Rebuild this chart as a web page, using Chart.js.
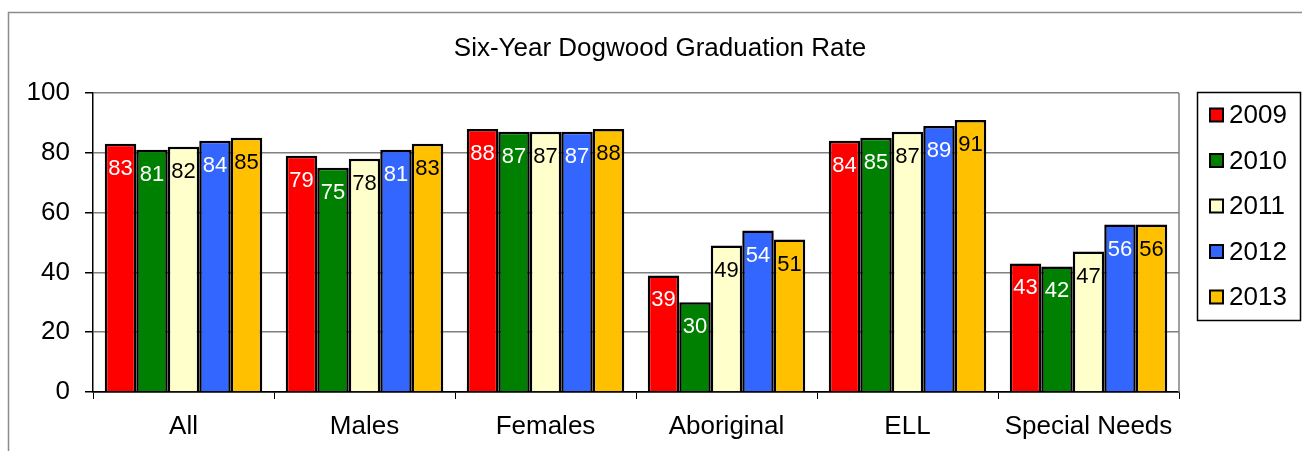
<!DOCTYPE html>
<html lang="en">
<head>
  <meta charset="UTF-8" />
  <title>Six-Year Dogwood Graduation Rate</title>
  <script src="https://cdn.jsdelivr.net/npm/chart.js"></script>
  <style>
    html, body { margin: 0; padding: 0; background: #fff; }
    canvas { display: block; }
  </style>
</head>
<body>
  <canvas id="grafico" width="1302" height="451"></canvas>

  <script>
  // Datos
  const categorias = ["All", "Males", "Females", "Aboriginal", "ELL", "Special Needs"];
  const anios = ["2009", "2010", "2011", "2012", "2013"];
  const datos2009 = [83, 79, 88, 39, 84, 43];
  const datos2010 = [81, 75, 87, 30, 85, 42];
  const datos2011 = [82, 78, 87, 49, 87, 47];
  const datos2012 = [84, 81, 87, 54, 89, 56];
  const datos2013 = [85, 83, 88, 51, 91, 56];
  const ticksY = [0, 20, 40, 60, 80, 100];

  const colores = ["#FF0000", "#008000", "#FFFFCC", "#3366FF", "#FFC000"];
  const coloresTexto = ["#FFFFFF", "#FFFFFF", "#000000", "#FFFFFF", "#000000"];
  const series = [datos2009, datos2010, datos2011, datos2012, datos2013];

  const FUENTE = "'Liberation Sans', Arial, sans-serif";
  Chart.defaults.font.family = FUENTE;
  Chart.defaults.color = "#000";

  // marco, titulo, leyenda y etiquetas
  const extras = {
    id: "extras",
    beforeDraw(chart) {
      const c = chart.ctx;
      c.save();
      c.fillStyle = "#fff";
      c.fillRect(0, 0, chart.width, chart.height);
      c.strokeStyle = "#8c8c8c";
      c.lineWidth = 1.5;
      c.strokeRect(8.5, 12.5, 1400, 600);
      c.restore();
    },
    afterDatasetsDraw(chart) {
      const c = chart.ctx;
      const area = chart.chartArea;
      c.save();
      // borde derecho del area
      c.strokeStyle = "#808080";
      c.lineWidth = 1.5;
      c.beginPath();
      c.moveTo(area.right, area.top);
      c.lineTo(area.right, area.bottom);
      c.stroke();

      c.font = "22px " + FUENTE;
      c.textAlign = "center";
      c.textBaseline = "middle";
      chart.data.datasets.forEach((ds, i) => {
        const meta = chart.getDatasetMeta(i);
        meta.data.forEach((bar, j) => {
          c.fillStyle = coloresTexto[i];
          c.fillText(Math.round(ds.data[j]), bar.x, bar.y + 25);
        });
      });
      c.restore();
    },
    afterDraw(chart) {
      const c = chart.ctx;
      c.save();
      c.fillStyle = "#000";
      c.font = "26px " + FUENTE;
      c.textAlign = "center";
      c.textBaseline = "middle";
      c.fillText("Six-Year Dogwood Graduation Rate", 660, 49);

      // Leyenda
      c.strokeStyle = "#000";
      c.lineWidth = 1.5;
      c.strokeRect(1197.5, 92.5, 103, 228);
      c.textAlign = "left";
      chart.data.datasets.forEach((ds, i) => {
        const y = 115 + i * 45.5;
        c.fillStyle = ds.backgroundColor;
        c.fillRect(1210, y - 6.5, 13, 13);
        c.lineWidth = 2;
        c.strokeRect(1210, y - 6.5, 13, 13);
        c.fillStyle = "#000";
        c.fillText(ds.label, 1229, y + 1);
      });
      c.restore();
    }
  };

  const ctx = document.getElementById("grafico").getContext("2d");
  new Chart(ctx, {
    type: "bar",
    data: {
      labels: categorias,
      datasets: anios.map((a, i) => ({
        label: a,
        data: series[i],
        backgroundColor: colores[i],
        borderColor: "#000",
        borderWidth: 2.5,
        borderSkipped: "bottom",
        categoryPercentage: 0.87,
        barPercentage: 1
      }))
    },
    options: {
      responsive: false,
      animation: false,
      layout: { padding: { top: 93, right: 123, left: 0, bottom: 0 } },
      plugins: {
        legend: { display: false },
        title: { display: false },
        tooltip: { enabled: false }
      },
      scales: {
        x: {
          afterFit(scale) { scale.height = 59; },
          grid: {
            drawOnChartArea: false,
            color: "#000",
            tickLength: 7,
            offset: true
          },
          border: { color: "#000", width: 1.5 },
          ticks: { font: { size: 26 }, color: "#000", padding: 12 }
        },
        y: {
          min: 0,
          max: 100,
          afterFit(scale) { scale.width = 93; },
          afterBuildTicks(scale) { scale.ticks = ticksY.map(v => ({ value: v })); },
          grid: {
            color: c => (c.tick && c.tick.value === 0 ? "#000" : "#808080"),
            tickColor: "#000",
            tickLength: 8,
            lineWidth: 1.5
          },
          border: { color: "#000", width: 1.5 },
          ticks: { font: { size: 26 }, color: "#000", padding: 15 }
        }
      }
    },
    plugins: [extras]
  });
  </script>
</body>
</html>
